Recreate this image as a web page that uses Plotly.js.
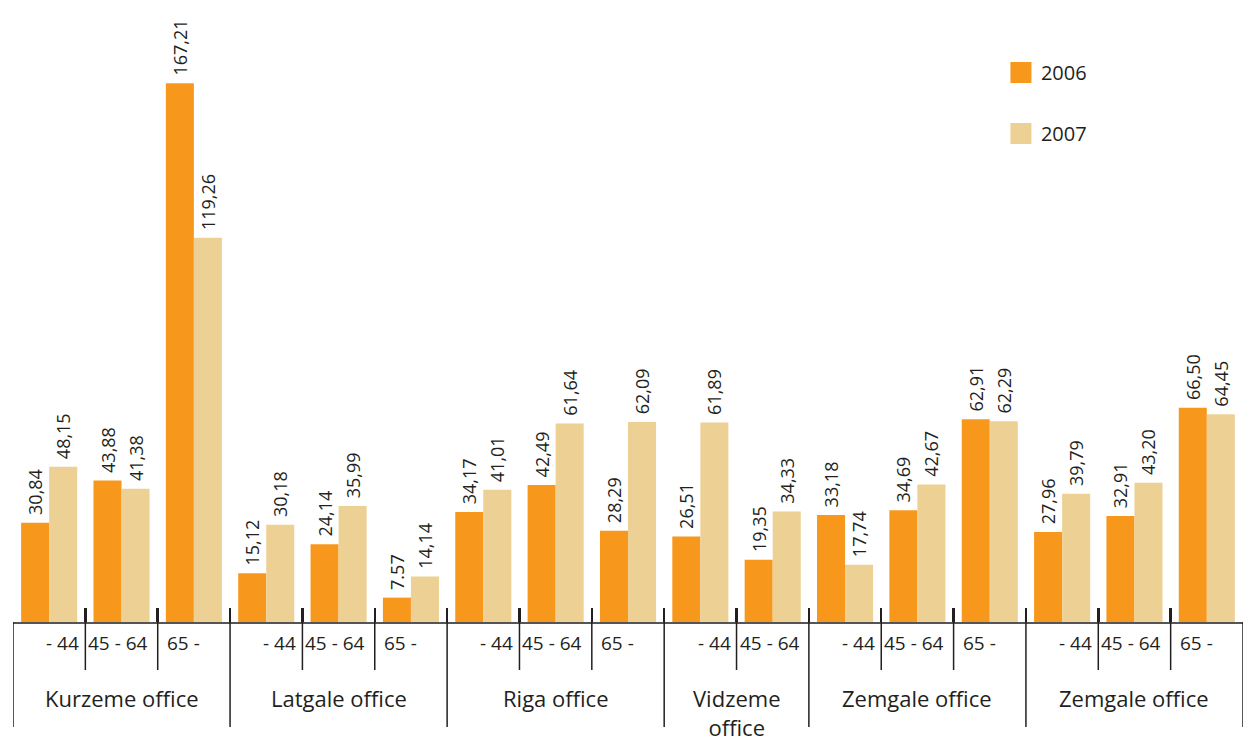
<!DOCTYPE html>
<html>
<head>
<meta charset="utf-8">
<script src="https://cdn.plot.ly/plotly-3.0.1.min.js"></script>
<style>html,body{margin:0;padding:0;background:#fff;}#chart{width:1245px;height:742px;}</style>
</head>
<body>
<div id="chart"></div>
<script>
// ---- data ----
const offices = ["Kurzeme office", "Latgale office", "Riga office", "Vidzeme<br>office", "Zemgale office", "Zemgale office"];
const officeSizes = [3, 3, 3, 2, 3, 3];
const ageGroups = ["- 44", "45 - 64", "65 -", "- 44", "45 - 64", "65 -", "- 44", "45 - 64", "65 -", "- 44", "45 - 64", "- 44", "45 - 64", "65 -", "- 44", "45 - 64", "65 -"];
const values2006 = [30.84, 43.88, 167.21, 15.12, 24.14, 7.57, 34.17, 42.49, 28.29, 26.51, 19.35, 33.18, 34.69, 62.91, 27.96, 32.91, 66.50];
const values2007 = [48.15, 41.38, 119.26, 30.18, 35.99, 14.14, 41.01, 61.64, 62.09, 61.89, 34.33, 17.74, 42.67, 62.29, 39.79, 43.20, 64.45];
const labels2006 = ["30,84", "43,88", "167,21", "15,12", "24,14", "7.57", "34,17", "42,49", "28,29", "26,51", "19,35", "33,18", "34,69", "62,91", "27,96", "32,91", "66,50"];
const labels2007 = ["48,15", "41,38", "119,26", "30,18", "35,99", "14,14", "41,01", "61,64", "62,09", "61,89", "34,33", "17,74", "42,67", "62,29", "39,79", "43,20", "64,45"];
const seriesNames = ["2006", "2007"];

// ---- style ----
const C1 = "#F7981D", C2 = "#EDD094", TXT = "#231f20";
const FONT = "Open Sans, Noto Sans, sans-serif";
const xs = ageGroups.map((_, i) => i);

const plotTop = 42, plotBottom = 622, plotH = plotBottom - plotTop;
const py = p => (plotBottom - p) / plotH; // pixel -> paper y

const barCommon = {
  type: "bar", x: xs, textposition: "outside", textangle: -90,
  texttemplate: "\u00a0%{text}",
  textfont: {family: FONT, size: 18, color: TXT}, constraintext: "none",
  cliponaxis: false, showlegend: false, hoverinfo: "skip"
};
const traces = [
  Object.assign({}, barCommon, {name: seriesNames[0], y: values2006, text: labels2006, marker: {color: C1}}),
  Object.assign({}, barCommon, {name: seriesNames[1], y: values2007, text: labels2007, marker: {color: C2}}),
  {type: "scatter", mode: "markers", x: [null], y: [null], name: seriesNames[0], legendgroup: "a",
   marker: {symbol: "square", size: 22, color: C1, line: {color: C1, width: 5}}},
  {type: "scatter", mode: "markers", x: [null], y: [null], name: seriesNames[1], legendgroup: "b",
   marker: {symbol: "square", size: 22, color: C2, line: {color: C2, width: 5}}}
];

const shapes = [], annotations = [];
let start = 0;
offices.forEach((off, k) => {
  const n = officeSizes[k];
  shapes.push({type: "line", xref: "x", yref: "paper", x0: start - 0.5, x1: start - 0.5, y0: 0, y1: py(727),
    line: {color: TXT, width: 1.5}});
  for (let j = 1; j < n; j++) {
    shapes.push({type: "line", xref: "x", yref: "paper", x0: start + j - 0.5, x1: start + j - 0.5, y0: 0, y1: py(670),
      line: {color: TXT, width: 1.5}});
  }
  annotations.push({xref: "x", yref: "paper", x: start + (n - 1) / 2, y: py(681), yanchor: "top",
    text: off, showarrow: false, font: {family: FONT, size: 22, color: TXT}});
  start += n;
});
shapes.push({type: "line", xref: "x", yref: "paper", x0: start - 0.5, x1: start - 0.5, y0: 0, y1: py(727),
  line: {color: TXT, width: 1.5}});

ageGroups.forEach((g, i) => {
  let a = {xref: "x", yref: "paper", y: py(643), yanchor: "middle", text: g, showarrow: false,
    font: {family: FONT, size: 19, color: TXT}};
  if (g === "- 44") { a.x = i + 0.5; a.xanchor = "right"; a.xshift = -4; }
  else if (g === "45 - 64") { a.x = i - 0.5; a.xanchor = "left"; a.xshift = 1; }
  else { a.x = i - 0.5; a.xanchor = "left"; a.xshift = 7; }
  annotations.push(a);
});

const tickvals = [];
for (let i = 0; i <= ageGroups.length; i++) tickvals.push(i - 0.5);

const layout = {
  width: 1245, height: 742,
  margin: {l: 13, r: 2, t: plotTop, b: 742 - plotBottom, pad: 0},
  paper_bgcolor: "#fff", plot_bgcolor: "#fff",
  barmode: "group", bargap: 0.225, bargroupgap: 0,
  font: {family: FONT, color: TXT},
  xaxis: {range: [-0.5, ageGroups.length - 0.5], tickmode: "array", tickvals: tickvals, showticklabels: false,
    ticks: "inside", ticklen: 14, tickwidth: 2.5, tickcolor: TXT,
    showline: true, linecolor: "#555", linewidth: 2, showgrid: false, zeroline: false, fixedrange: true},
  yaxis: {range: [0, 180], visible: false, showgrid: false, zeroline: false, fixedrange: true},
  showlegend: true,
  legend: {x: 0.8032, xanchor: "left", y: py(53), yanchor: "top", tracegroupgap: 32,
    font: {family: FONT, size: 20, color: TXT}, bgcolor: "rgba(0,0,0,0)"},
  shapes: shapes, annotations: annotations
};

Plotly.newPlot("chart", traces, layout, {displayModeBar: false, staticPlot: true});
</script>
</body>
</html>
